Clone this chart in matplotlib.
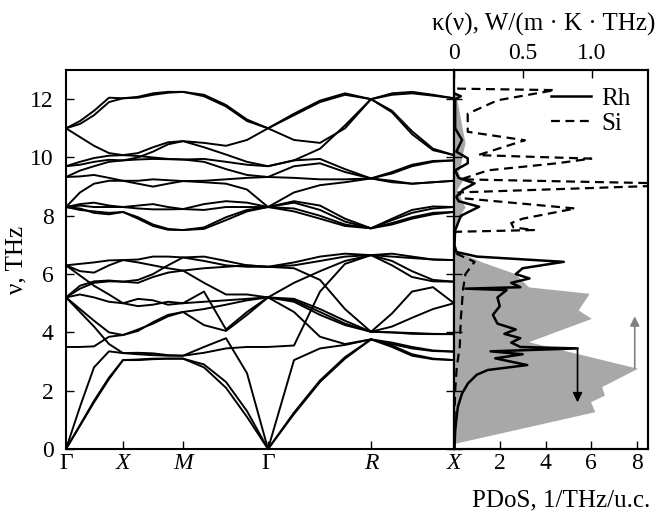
import numpy as np
import matplotlib.pyplot as plt

plt.rcParams['font.family'] = ['Liberation Serif', 'DejaVu Serif']
plt.rcParams['font.size'] = 17

# --- phonon dispersion: path coordinate of sampled k-points
k_path = [0, 14, 28, 43, 57, 72, 87, 102, 117, 138, 160, 181, 202,
          228, 254, 279, 305, 326, 346, 367, 388]
k_ticks = [0, 57, 117, 202, 305, 388]
k_labels = ['Γ', 'X', 'M', 'Γ', 'R', 'X']

# frequencies (THz) of the acoustic / lower optical branches
lower_bands = [
    [0, 1.45, 2.8, 3.35, 3.29, 3.3, 3.28, 3.22, 3.2, 3.5, 3.8, 2.6, 0, 3.05, 3.45, 3.57, 3.76, 3.6, 3.45, 3.36, 3.34],
    [0, 0.8, 1.6, 2.4, 3.05, 3.07, 3.1, 3.1, 3.1, 2.9, 2.3, 1.3, 0, 1.25, 2.35, 3.15, 3.76, 3.65, 3.5, 3.38, 3.34],
    [0, 0.82, 1.65, 2.45, 3.05, 3.05, 3.08, 3.1, 3.1, 2.8, 2.1, 1.1, 0, 1.2, 2.3, 3.1, 3.76, 3.5, 3.2, 3.08, 3.05],
    [3.5, 3.5, 3.52, 3.85, 3.91, 4.1, 4.3, 4.55, 4.7, 4.25, 4.05, 4.6, 5.2, 5.15, 4.8, 4.4, 4.02, 4.65, 5.4, 5.55, 5.0],
    [5.2, 4.7, 4.2, 3.6, 3.29, 3.25, 3.22, 3.2, 3.2, 3.3, 3.45, 3.5, 3.5, 3.55, 5.4, 6.35, 6.65, 6.3, 5.9, 5.75, 5.74],
    [5.2, 4.8, 4.4, 4.0, 3.91, 4.05, 4.35, 4.6, 4.7, 4.8, 4.95, 5.1, 5.2, 5.1, 4.7, 4.3, 4.02, 4.2, 4.5, 4.8, 5.0],
    [5.2, 5.3, 5.2, 5.05, 5.0, 5.15, 5.1, 4.95, 5.0, 5.4, 4.1, 4.7, 5.2, 5.05, 4.6, 4.25, 4.02, 4.0, 3.98, 3.95, 3.94],
    [5.2, 5.5, 5.7, 5.75, 5.74, 5.7, 5.9, 6.05, 6.12, 5.7, 5.3, 5.3, 5.2, 5.7, 6.1, 6.45, 6.65, 6.45, 6.1, 5.8, 5.74],
    [6.3, 6.35, 6.4, 6.47, 6.48, 6.5, 6.6, 6.6, 6.57, 6.6, 6.45, 6.3, 6.25, 6.2, 5.8, 4.8, 4.02, 4.0, 3.95, 3.94, 3.94],
    [6.3, 6.1, 6.05, 6.3, 6.48, 6.4, 6.3, 6.2, 6.12, 6.2, 6.25, 6.3, 6.25, 6.3, 6.45, 6.6, 6.65, 6.6, 6.55, 6.5, 6.48],
    [6.3, 5.95, 5.6, 5.3, 5.0, 4.9, 4.95, 5.05, 5.0, 5.05, 5.1, 5.15, 5.2, 4.7, 3.85, 3.6, 3.76, 3.55, 3.25, 3.1, 3.05],
    [5.2, 5.6, 5.75, 5.78, 5.74, 5.8, 6.0, 6.3, 6.57, 6.45, 6.3, 6.25, 6.25, 6.4, 6.6, 6.7, 6.65, 6.7, 6.6, 6.5, 6.48],
]

# frequencies (THz) of the upper optical branches
upper_bands = [
    [11.0, 11.25, 11.6, 12.05, 12.03, 12.05, 12.15, 12.22, 12.25, 12.15, 11.8, 11.3, 11.0, 11.5, 11.95, 12.2, 12.0, 12.2, 12.25, 12.15, 12.03],
    [11.0, 11.15, 11.45, 11.9, 12.03, 12.08, 12.2, 12.25, 12.25, 12.1, 11.75, 11.25, 11.0, 11.45, 11.9, 12.15, 12.0, 12.15, 12.2, 12.12, 12.03],
    [11.0, 10.7, 10.4, 10.15, 10.08, 10.15, 10.35, 10.52, 10.56, 10.5, 10.4, 10.6, 11.0, 10.6, 10.5, 11.0, 12.0, 11.6, 10.9, 10.3, 10.08],
    [9.7, 9.85, 9.98, 10.06, 10.08, 10.05, 10.0, 9.95, 9.93, 9.95, 9.85, 9.75, 9.7, 9.9, 10.3, 11.1, 12.0, 11.55, 10.8, 10.25, 10.08],
    [9.7, 9.75, 9.85, 9.92, 9.9, 10.0, 10.2, 10.45, 10.56, 10.35, 10.1, 9.85, 9.7, 9.9, 9.95, 9.6, 9.28, 9.5, 9.75, 9.88, 9.9],
    [9.33, 9.55, 9.7, 9.85, 9.9, 9.93, 9.95, 9.94, 9.93, 9.85, 9.6, 9.4, 9.33, 9.7, 9.8, 9.5, 9.28, 9.45, 9.7, 9.85, 9.9],
    [9.33, 9.35, 9.4, 9.3, 9.2, 9.1, 9.0, 9.1, 9.19, 9.2, 9.25, 9.3, 9.33, 9.3, 9.25, 9.25, 9.28, 9.15, 9.1, 9.15, 9.2],
    [8.3, 8.8, 9.1, 9.2, 9.2, 9.2, 9.25, 9.22, 9.19, 9.15, 9.1, 8.9, 8.3, 8.8, 9.05, 9.15, 9.28, 9.2, 9.1, 9.15, 9.2],
    [8.3, 8.4, 8.45, 8.35, 8.3, 8.35, 8.4, 8.3, 8.23, 8.4, 8.5, 8.45, 8.3, 8.5, 8.35, 7.9, 7.57, 7.9, 8.2, 8.32, 8.3],
    [8.3, 8.35, 8.3, 8.3, 8.3, 8.25, 8.22, 8.22, 8.23, 8.2, 8.3, 8.3, 8.3, 8.45, 8.2, 7.8, 7.57, 7.85, 8.1, 8.25, 8.3],
    [8.3, 8.2, 8.15, 8.1, 8.13, 7.9, 7.65, 7.52, 7.51, 7.6, 7.95, 8.2, 8.3, 8.25, 8.0, 7.7, 7.57, 7.75, 7.95, 8.1, 8.13],
    [8.3, 8.25, 8.1, 8.05, 8.13, 7.95, 7.7, 7.55, 7.51, 7.55, 7.85, 8.15, 8.3, 8.15, 7.9, 7.65, 7.57, 7.7, 7.9, 8.05, 8.13],
]

# --- spectral thermal conductivity kappa(nu) (grey area, top axis)
kappa_nu = [0, 0.2, 1.28, 1.62, 1.85, 2.14, 2.77, 3.68, 4.48, 4.77, 5.34, 5.56, 6.02, 6.42, 6.76,
            7.0, 7.6, 8.0, 8.3, 8.6, 8.9, 9.2, 9.5, 9.8, 10.1, 10.5, 11.0, 11.5, 12.0, 12.4]
kappa_val = [0, 0.01, 1.02, 0.99, 1.09, 1.07, 1.33, 0.54, 0.995, 0.9, 0.98, 0.54, 0.44, 0.2, 0.03,
             0.0, 0.01, 0.04, 0.08, 0.05, 0.02, 0.06, 0.03, 0.05, 0.06, 0.08, 0.06, 0.04, 0.02, 0.0]

# --- partial phonon DOS (bottom axis)
rh_nu = [0.0, 0.6, 1.0, 1.45, 1.9, 2.25, 2.55, 2.71, 2.88, 3.11, 3.25, 3.35, 3.45, 3.5, 3.65, 3.8,
         3.95, 4.1, 4.3, 4.6, 4.9, 5.2, 5.45, 5.5, 5.55, 5.7, 5.85, 6.0, 6.2, 6.42, 6.6, 6.76,
         7.0, 7.5, 8.0, 8.31, 8.5, 8.65, 8.9, 9.11, 9.3, 9.56, 9.8, 9.97, 10.2, 10.6, 11.0,
         12.0, 12.1, 12.2]
rh_dos = [0.02, 0.05, 0.1, 0.17, 0.35, 0.61, 1.0, 1.48, 3.2, 1.8, 3.0, 1.6, 5.4, 2.9, 2.5, 2.9,
          2.2, 2.7, 1.9, 1.7, 2.0, 1.9, 2.3, 0.5, 2.9, 2.5, 3.3, 2.7, 3.0, 4.8, 1.0, 0.1,
          0.02, 0.05, 0.3, 1.1, 0.2, 0.1, 0.4, 0.9, 0.2, 0.05, 0.6, 0.6, 0.1, 0.35, 0.05,
          0.05, 0.3, 0.0]

si_nu = [0, 1.0, 2.0, 2.8, 3.5, 4.5, 5.5, 6.0, 6.42, 6.7, 7.0, 7.45, 7.51, 7.6, 7.75, 7.9, 8.25,
         8.6, 8.8, 9.02, 9.12, 9.25, 9.56, 9.8, 9.96, 10.08, 10.59, 10.88, 11.5, 11.96, 12.31,
         12.36, 12.4]
si_dos = [0, 0.02, 0.05, 0.12, 0.25, 0.3, 0.4, 0.5, 0.9, 0.1, 0.0, 0.05, 3.5, 2.6, 2.5, 3.0, 5.3,
          0.4, 0.2, 8.6, 8.6, 0.3, 1.5, 4.5, 6.0, 1.05, 3.1, 0.6, 0.6, 1.9, 4.4,
          0.2, 0.0]

W, H = 658, 516
fig = plt.figure(figsize=(W / 100, H / 100), dpi=100)
ax1 = fig.add_axes([66 / W, 67 / H, 388 / W, 379 / H])
ax2 = fig.add_axes([454 / W, 67 / H, 194 / W, 379 / H])
ax3 = ax2.twiny()

# dispersion
for band in lower_bands + upper_bands:
    ax1.plot(k_path, band, color='black', lw=1.4, solid_joinstyle='round')
ax1.set_xlim(k_ticks[0], k_ticks[-1])
ax1.set_ylim(0, 13)
ax1.set_yticks(range(0, 13, 2))
ax1.set_xticks(k_ticks)
ax1.set_xticklabels(k_labels)
for lab in ax1.get_xticklabels():
    if lab.get_text() != 'Γ':
        lab.set_fontstyle('italic')
ax1.tick_params(direction='in', length=6, width=1, right=True, labelsize=17)
ax1.tick_params(axis='x', pad=3)
ax1.tick_params(axis='y', pad=9)
ax1.set_ylabel('ν, THz', fontsize=18, labelpad=2)

# kappa (grey) on the top axis
ax3.fill_betweenx(kappa_nu, 0, kappa_val, color='#a8a8a8', lw=0)
ax3.set_xlim(0, 1.406)
ax3.set_xticks([0, 0.5, 1.0])
ax3.set_xticklabels(['0', '0.5', '1.0'])
ax3.tick_params(direction='in', length=6, width=1, labelsize=17, pad=4)
ax3.set_xlabel('κ(ν), W/(m · K · THz)', fontsize=18)
ax3.xaxis.set_label_coords(0.461, 1.0 + 46 / 379)
ax3.xaxis.label.set_va('center')

# PDoS
ax2.set_zorder(ax3.get_zorder() + 1)
ax2.patch.set_visible(False)
ax2.plot(rh_dos, rh_nu, color='black', lw=1.8, label='Rh')
ax2.plot(si_dos, si_nu, color='black', lw=1.6, ls=(0, (4, 2.5)), label='Si')
ax2.set_xlim(0, 8.48)
ax2.set_ylim(0, 13)
ax2.set_yticks(range(0, 13, 2))
ax2.set_xticks([2, 4, 6, 8])
ax2.tick_params(direction='in', length=6, width=1, labelleft=False, labelsize=17, pad=3)
ax2.set_xlabel('PDoS, 1/THz/u.c.', fontsize=18, ha='right')
ax2.xaxis.set_label_coords(1.01, -51 / 379)
ax2.xaxis.label.set_va('center')
ax2.legend(loc='upper right', frameon=False, fontsize=18, handlelength=1.6,
           handletextpad=0.4, labelspacing=0.1, borderaxespad=0.3)

# arrows pointing to the relevant axis
i_rh = int(np.argmax(rh_dos))
ax2.annotate('', xy=(rh_dos[i_rh], 1.6), xytext=(rh_dos[i_rh], rh_nu[i_rh]),
             arrowprops=dict(arrowstyle='-|>', color='black', lw=1.2,
                             mutation_scale=14, shrinkA=0, shrinkB=0))
i_k = int(np.argmax(kappa_val))
ax3.annotate('', xy=(kappa_val[i_k] - 0.02, 4.55), xytext=(kappa_val[i_k] - 0.02, kappa_nu[i_k]),
             arrowprops=dict(arrowstyle='-|>', color='#808080', lw=1.2,
                             mutation_scale=14, shrinkA=0, shrinkB=0))

for ax in (ax1, ax2, ax3):
    for s in ax.spines.values():
        s.set_linewidth(1.5)

fig.savefig('out.png', dpi=100)
